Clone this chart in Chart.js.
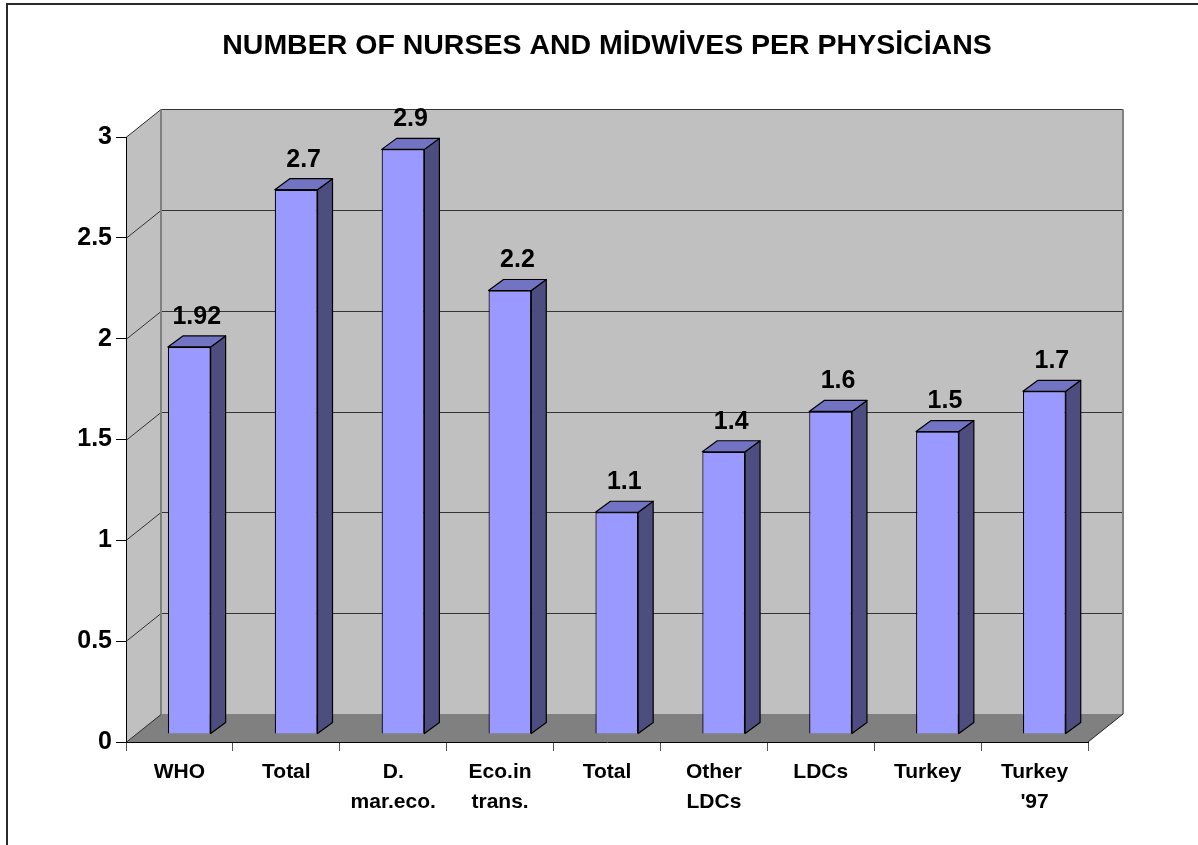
<!DOCTYPE html>
<html><head><meta charset="utf-8">
<script src="https://cdn.jsdelivr.net/npm/chart.js@4.4.0/dist/chart.umd.min.js"></script>
<style>html,body{margin:0;padding:0;background:#fff}#wrap{width:1198px;height:845px;position:relative}</style>
</head><body><div id="wrap"><canvas id="c"></canvas></div>
<script>
const titleText = 'NUMBER OF NURSES AND MİDWİVES PER PHYSİCİANS';
const categories = [['WHO'], ['Total'], ['D.', 'mar.eco.'], ['Eco.in', 'trans.'], ['Total'], ['Other', 'LDCs'], ['LDCs'], ['Turkey'], ['Turkey', "'97"]];
const values = [1.92, 2.7, 2.9, 2.2, 1.1, 1.4, 1.6, 1.5, 1.7];
const valueLabels = ['1.92', '2.7', '2.9', '2.2', '1.1', '1.4', '1.6', '1.5', '1.7'];
const yTicks = [0, 0.5, 1, 1.5, 2, 2.5, 3];
const yTickLabels = ['0', '0.5', '1', '1.5', '2', '2.5', '3'];

const DX = 35, DY = -28;      // depth of the 3D box
const FX = 9.8, FY = -8;      // bar front face offset
const SX = 15, SY = -11;      // bar depth

const threeD = {
  id: 'threeD',
  beforeDraw(chart) {
    const { ctx, chartArea: a, scales: { y } } = chart;
    ctx.save();
    ctx.fillStyle = '#fff';
    ctx.fillRect(0, 0, chart.width, chart.height);
    ctx.strokeStyle = '#2a2a2a'; ctx.lineWidth = 2;
    ctx.strokeRect(7, 4, 1300, 1000);
    // back wall
    ctx.fillStyle = '#c0c0c0';
    ctx.fillRect(a.left + DX, a.top + DY, a.right - a.left, a.bottom - a.top);
    // side wall
    ctx.beginPath();
    ctx.moveTo(a.left, a.top); ctx.lineTo(a.left + DX, a.top + DY);
    ctx.lineTo(a.left + DX, a.bottom + DY); ctx.lineTo(a.left, a.bottom);
    ctx.closePath(); ctx.fill();
    // floor
    ctx.fillStyle = '#808080';
    ctx.beginPath();
    ctx.moveTo(a.left, a.bottom); ctx.lineTo(a.right, a.bottom);
    ctx.lineTo(a.right + DX, a.bottom + DY); ctx.lineTo(a.left + DX, a.bottom + DY);
    ctx.closePath(); ctx.fill();
    // grid lines
    ctx.lineWidth = 1;
    yTicks.forEach(v => {
      const py = Math.round(y.getPixelForValue(v)) + 0.5;
      ctx.strokeStyle = '#333';
      ctx.beginPath();
      ctx.moveTo(a.left, py); ctx.lineTo(a.left + DX, py + DY);
      if (v > 0) ctx.lineTo(a.right + DX, py + DY);
      ctx.stroke();
    });
    // wall edges
    ctx.strokeStyle = '#808080'; ctx.lineWidth = 2;
    ctx.beginPath();
    ctx.moveTo(a.left + DX, a.top + DY); ctx.lineTo(a.left + DX, a.bottom + DY);
    ctx.moveTo(a.right + DX, a.top + DY); ctx.lineTo(a.right + DX, a.bottom + DY);
    ctx.stroke();
    ctx.strokeStyle = '#222'; ctx.lineWidth = 1;
    ctx.beginPath();
    ctx.moveTo(a.right, a.bottom); ctx.lineTo(a.right + DX, a.bottom + DY);
    ctx.stroke();
    ctx.restore();
  },
  beforeDatasetsDraw(chart) {
    chart.ctx.save();
    chart.ctx.translate(FX, FY);
  },
  afterDatasetsDraw(chart) {
    const ctx = chart.ctx;
    const meta = chart.getDatasetMeta(0);
    ctx.lineWidth = 1.2; ctx.strokeStyle = '#000'; ctx.lineJoin = 'round';
    meta.data.forEach(el => {
      const L = el.x - el.width / 2, R = el.x + el.width / 2, T = el.y, B = el.base;
      ctx.fillStyle = '#4d4d80';
      ctx.beginPath();
      ctx.moveTo(R, T); ctx.lineTo(R + SX, T + SY); ctx.lineTo(R + SX, B + SY); ctx.lineTo(R, B);
      ctx.closePath(); ctx.fill(); ctx.stroke();
      ctx.fillStyle = '#7373c4';
      ctx.beginPath();
      ctx.moveTo(L, T); ctx.lineTo(L + SX, T + SY); ctx.lineTo(R + SX, T + SY); ctx.lineTo(R, T);
      ctx.closePath(); ctx.fill(); ctx.stroke();
    });
    ctx.restore();
    // value labels
    ctx.save();
    ctx.fillStyle = '#000';
    ctx.font = 'bold 25px "Liberation Sans", Arial, sans-serif';
    ctx.textAlign = 'center'; ctx.textBaseline = 'middle';
    meta.data.forEach((el, i) => {
      ctx.fillText(valueLabels[i], el.x + FX + SX / 2, el.y + FY - 30);
    });
    ctx.restore();
  }
};

new Chart(document.getElementById('c'), {
  type: 'bar',
  data: {
    labels: categories,
    datasets: [{
      data: values,
      backgroundColor: '#9999ff',
      borderColor: '#000',
      borderWidth: 1.2,
      categoryPercentage: 1,
      barPercentage: 0.4,
      clip: false
    }]
  },
  options: {
    responsive: true,
    maintainAspectRatio: false,
    animation: false,
    events: [],
    layout: { padding: { left: 0, right: 110, top: 0, bottom: 0 } },
    plugins: {
      legend: { display: false },
      tooltip: { enabled: false },
      title: {
        display: true,
        fullSize: false,
        text: titleText,
        color: '#000',
        font: { family: '"Liberation Sans", Arial, sans-serif', size: 28.5, weight: 'bold', lineHeight: 1.2 },
        padding: { top: 29, bottom: 74 }
      }
    },
    scales: {
      x: {
        grid: { drawOnChartArea: false, drawTicks: true, tickLength: 9, color: '#555', offset: true },
        border: { color: '#000', width: 1 },
        ticks: {
          color: '#000', autoSkip: false, maxRotation: 0, padding: 7,
          font: { family: '"Liberation Sans", Arial, sans-serif', size: 21, weight: 'bold', lineHeight: 1.4 }
        },
        afterFit: s => { s.height = 103; }
      },
      y: {
        min: 0, max: 3,
        grid: { drawOnChartArea: false, drawTicks: true, tickLength: 10, color: '#000' },
        border: { color: '#000', width: 1 },
        ticks: {
          stepSize: 0.5, color: '#000', padding: 4,
          callback: (v, i) => yTickLabels[i],
          font: { family: '"Liberation Sans", Arial, sans-serif', size: 25, weight: 'bold' }
        },
        afterFit: s => { s.width = 126; }
      }
    }
  },
  plugins: [threeD]
});
</script>
</body></html>
